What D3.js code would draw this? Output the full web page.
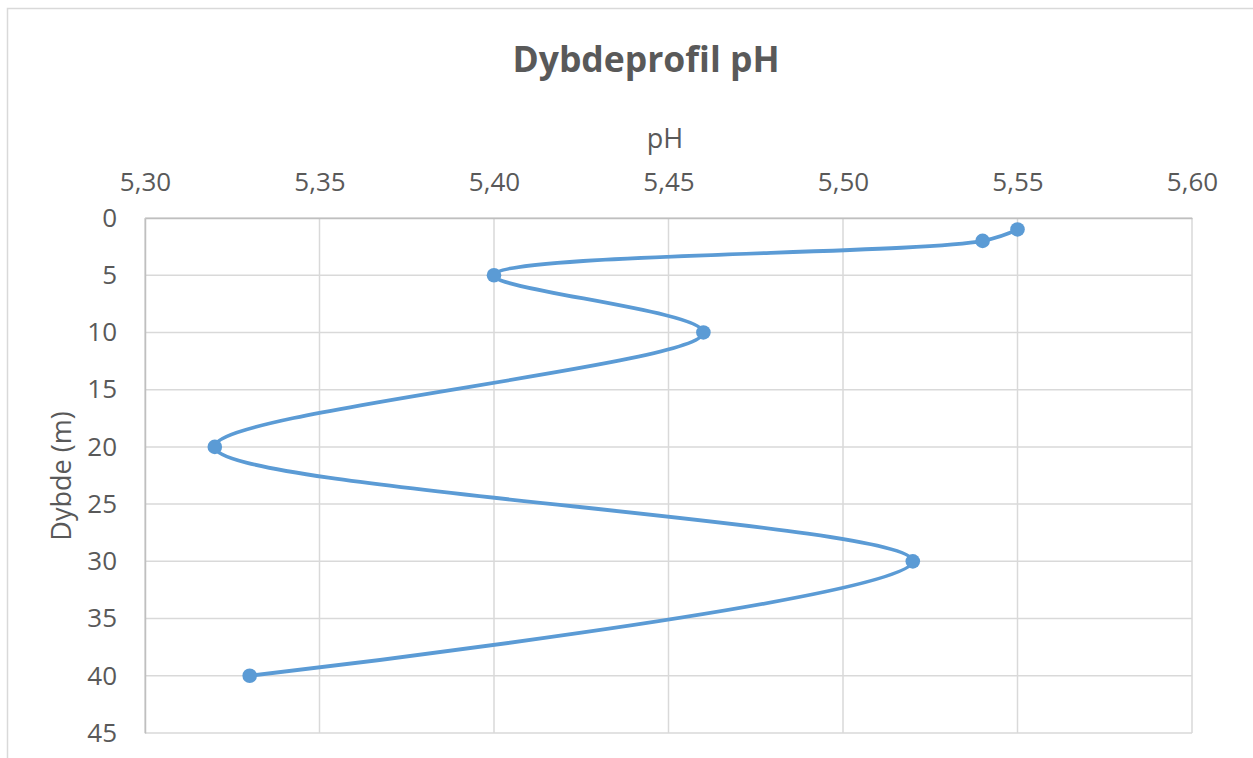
<!DOCTYPE html>
<html>
<head>
<meta charset="utf-8">
<script src="https://cdn.jsdelivr.net/npm/d3@7"></script>
<style>
  html, body { margin: 0; padding: 0; background: #fff; }
  svg { display: block; }
  text { font-family: "Open Sans", "Liberation Sans", sans-serif; fill: #595959; }
</style>
</head>
<body>
<svg id="chart" width="1253" height="758"></svg>
<script>
// pH measured at each depth (m)
const depths = [1, 2, 5, 10, 20, 30, 40];
const phValues = [5.55, 5.54, 5.40, 5.46, 5.32, 5.52, 5.33];

// axis ticks
const phTicks = [5.30, 5.35, 5.40, 5.45, 5.50, 5.55, 5.60];
const depthTicks = [0, 5, 10, 15, 20, 25, 30, 35, 40, 45];

const titleText = "Dybdeprofil pH";
const xTitle = "pH";
const yTitle = "Dybde (m)";

const svg = d3.select("#chart");
const W = 1253, H = 758;
const plot = { left: 145, right: 1192, top: 218, bottom: 733 };

const nb = d3.formatLocale({ decimal: ",", thousands: ".", grouping: [3], currency: ["", " kr"] });
const fmt = nb.format(".2f");

const x = d3.scaleLinear().domain([5.30, 5.60]).range([plot.left, plot.right]);
const y = d3.scaleLinear().domain([0, 45]).range([plot.top, plot.bottom]);

// chart frame
svg.append("rect")
  .attr("x", 7.5).attr("y", 8.5)
  .attr("width", W + 10).attr("height", H + 10)
  .attr("fill", "#fff").attr("stroke", "#d9d9d9").attr("stroke-width", 1.5);

// gridlines
const grid = svg.append("g").attr("stroke", "#d9d9d9").attr("stroke-width", 1.5);
grid.selectAll("line.v").data(phTicks).join("line")
  .attr("class", "v")
  .attr("x1", d => x(d)).attr("x2", d => x(d))
  .attr("y1", plot.top).attr("y2", plot.bottom);
grid.selectAll("line.h").data(depthTicks).join("line")
  .attr("class", "h")
  .attr("x1", plot.left).attr("x2", plot.right)
  .attr("y1", d => y(d)).attr("y2", d => y(d));

// axes
const xAxis = svg.append("g")
  .attr("transform", `translate(0,${plot.top})`)
  .call(d3.axisTop(x).tickValues(phTicks).tickFormat(fmt).tickSize(0).tickPadding(27));
xAxis.select(".domain").attr("stroke", "#bfbfbf").attr("stroke-width", 1.5);
xAxis.selectAll("text").attr("font-size", 26).attr("fill", "#595959");

const yAxis = svg.append("g")
  .attr("transform", `translate(${plot.left},0)`)
  .call(d3.axisLeft(y).tickValues(depthTicks).tickFormat(d3.format("d")).tickSize(0).tickPadding(28));
yAxis.select(".domain").attr("stroke", "#bfbfbf").attr("stroke-width", 1.5);
yAxis.selectAll("text").attr("font-size", 26).attr("fill", "#595959");

// titles
svg.append("text")
  .attr("x", 646).attr("y", 72)
  .attr("text-anchor", "middle")
  .attr("font-size", 35.5).attr("font-weight", "bold")
  .text(titleText);

svg.append("text")
  .attr("x", 665).attr("y", 148)
  .attr("text-anchor", "middle")
  .attr("font-size", 27)
  .text(xTitle);

svg.append("text")
  .attr("transform", "translate(71,476) rotate(-90)")
  .attr("text-anchor", "middle")
  .attr("font-size", 27)
  .text(yTitle);

// smoothed profile line
const pts = depths.map((d, i) => ({ depth: d, ph: phValues[i] }));
const line = d3.line()
  .x(d => x(d.ph))
  .y(d => y(d.depth))
  .curve(d3.curveCatmullRom.alpha(0.5));

svg.append("path")
  .datum(pts)
  .attr("d", line)
  .attr("fill", "none")
  .attr("stroke", "#5b9bd5")
  .attr("stroke-width", 3.8)
  .attr("stroke-linejoin", "round")
  .attr("stroke-linecap", "round");

svg.append("g").selectAll("circle").data(pts).join("circle")
  .attr("cx", d => x(d.ph))
  .attr("cy", d => y(d.depth))
  .attr("r", 7.3)
  .attr("fill", "#5b9bd5");
</script>
</body>
</html>
